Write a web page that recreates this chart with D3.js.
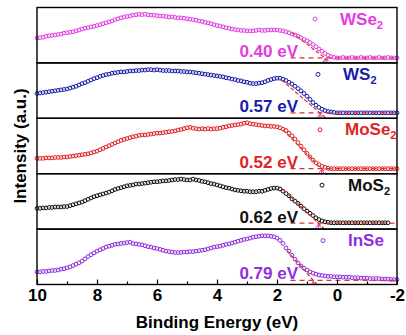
<!DOCTYPE html>
<html>
<head>
<meta charset="utf-8">
<script src="https://cdn.jsdelivr.net/npm/d3@7"></script>
<style>
  html, body { margin: 0; padding: 0; background: #fff; }
  svg { display: block; font-family: "Liberation Sans", Arial, sans-serif; font-weight: bold; }
</style>
</head>
<body>
<svg id="chart" width="406" height="335"></svg>
<script>
// Valence-band spectra, sampled every 0.1 eV starting at 10 eV binding energy
const energyStart = 10;
const energyStep = 0.1;

const samples = ["WSe2", "WS2", "MoSe2", "MoS2", "InSe"];
const sampleLabels = [["WSe", "2"], ["WS", "2"], ["MoSe", "2"], ["MoS", "2"], ["InSe", ""]];
const colors = ["#e23de2", "#1c1ca8", "#e02424", "#111111", "#8f2fe0"];

// normalised intensity (a.u.)
const wse2 = [
  0.44,0.45,0.46,0.48,0.49,0.50,0.51,0.52,0.53,0.55,
  0.56,0.57,0.58,0.60,0.62,0.64,0.66,0.67,0.69,0.70,
  0.72,0.74,0.76,0.78,0.80,0.82,0.85,0.87,0.89,0.91,
  0.92,0.93,0.95,0.96,0.97,0.96,0.97,0.96,0.95,0.95,
  0.94,0.93,0.93,0.92,0.91,0.91,0.90,0.89,0.89,0.88,
  0.87,0.86,0.85,0.84,0.82,0.81,0.79,0.78,0.76,0.74,
  0.72,0.71,0.69,0.67,0.66,0.64,0.63,0.62,0.61,0.61,
  0.60,0.60,0.60,0.61,0.62,0.61,0.61,0.62,0.62,0.62,
  0.62,0.61,0.60,0.58,0.56,0.53,0.51,0.48,0.45,0.41,
  0.38,0.34,0.30,0.25,0.20,0.15,0.10,0.06,0.03,0.01,
  0.00,0.00,0.01,0.00,0.00,0.01,0.00,0.00,0.01,0.00,
  0.00,0.01,0.00,0.00,0.01,0.00,0.00,0.01,0.00,0.00,0.00
];
const ws2 = [
  0.44,0.45,0.46,0.47,0.48,0.49,0.50,0.51,0.52,0.53,
  0.54,0.56,0.58,0.60,0.63,0.66,0.68,0.71,0.74,0.77,
  0.79,0.82,0.84,0.86,0.87,0.89,0.90,0.91,0.92,0.92,
  0.93,0.94,0.94,0.95,0.95,0.96,0.96,0.97,0.97,0.96,
  0.97,0.96,0.95,0.95,0.95,0.94,0.94,0.94,0.93,0.93,
  0.92,0.92,0.91,0.90,0.89,0.88,0.87,0.86,0.85,0.84,
  0.83,0.82,0.81,0.79,0.78,0.76,0.75,0.73,0.72,0.70,
  0.69,0.67,0.66,0.66,0.67,0.68,0.70,0.73,0.75,0.77,
  0.78,0.78,0.76,0.73,0.69,0.65,0.60,0.55,0.50,0.44,
  0.38,0.31,0.24,0.18,0.13,0.09,0.06,0.04,0.03,0.02,
  0.01,0.01,0.01,0.01,0.01,0.01,0.01,0.01,0.01,0.01,
  0.01,0.01,0.01,0.01,0.01,0.01,0.01,0.01,0.01,0.01,0.01
];
const mose2 = [
  0.23,0.23,0.23,0.24,0.24,0.24,0.25,0.25,0.25,0.26,
  0.26,0.27,0.28,0.29,0.30,0.31,0.32,0.33,0.35,0.37,
  0.39,0.42,0.45,0.48,0.51,0.54,0.57,0.60,0.63,0.65,
  0.67,0.69,0.71,0.72,0.74,0.75,0.75,0.76,0.77,0.78,
  0.79,0.79,0.80,0.81,0.82,0.83,0.84,0.86,0.87,0.89,
  0.91,0.92,0.90,0.89,0.88,0.89,0.88,0.89,0.88,0.89,
  0.89,0.90,0.92,0.93,0.95,0.96,0.97,0.98,0.99,1.01,
  1.02,1.00,0.99,0.98,0.97,0.96,0.95,0.95,0.94,0.94,
  0.93,0.91,0.88,0.85,0.79,0.73,0.66,0.58,0.50,0.42,
  0.34,0.26,0.19,0.13,0.09,0.05,0.03,0.01,0.00,0.00,
  0.00,0.00,0.00,0.00,0.00,0.00,0.00,0.00,0.00,0.00,
  0.00,0.00,0.00,0.00,0.00,0.00,0.00,0.00,0.00,0.00,0.00
];
const mos2 = [
  0.35,0.35,0.36,0.36,0.37,0.37,0.38,0.38,0.38,0.39,
  0.39,0.41,0.43,0.45,0.47,0.49,0.52,0.55,0.58,0.61,
  0.63,0.65,0.67,0.69,0.71,0.74,0.77,0.79,0.81,0.83,
  0.85,0.86,0.87,0.89,0.89,0.90,0.91,0.92,0.93,0.94,
  0.94,0.95,0.96,0.96,0.97,0.98,0.99,0.99,1.00,0.99,
  0.98,0.98,1.00,0.98,0.97,0.95,0.94,0.92,0.90,0.89,
  0.87,0.85,0.83,0.81,0.80,0.78,0.76,0.75,0.74,0.73,
  0.73,0.72,0.72,0.72,0.73,0.73,0.75,0.77,0.79,0.80,
  0.80,0.78,0.73,0.68,0.63,0.56,0.51,0.46,0.40,0.34,
  0.29,0.24,0.19,0.14,0.10,0.07,0.05,0.04,0.03,0.03,
  0.03,0.03,0.03,0.03,0.03,0.03,0.03,0.03,0.03,0.03,
  0.03,0.03,0.03,0.03,0.03,0.03,0.03,0.03
];
const inse = [
  0.17,0.17,0.18,0.18,0.19,0.20,0.20,0.21,0.23,0.24,
  0.26,0.28,0.31,0.34,0.37,0.41,0.46,0.51,0.55,0.59,
  0.63,0.66,0.69,0.72,0.74,0.76,0.78,0.79,0.80,0.81,
  0.82,0.83,0.80,0.79,0.78,0.77,0.75,0.73,0.72,0.70,
  0.69,0.67,0.65,0.63,0.62,0.61,0.60,0.60,0.60,0.61,
  0.61,0.62,0.62,0.63,0.64,0.65,0.66,0.68,0.70,0.72,
  0.73,0.74,0.76,0.78,0.79,0.81,0.83,0.85,0.87,0.89,
  0.90,0.92,0.94,0.95,0.96,0.97,0.97,0.97,0.96,0.95,
  0.92,0.87,0.80,0.70,0.63,0.54,0.45,0.37,0.30,0.25,
  0.21,0.17,0.14,0.12,0.10,0.09,0.08,0.07,0.07,0.06,
  0.06,0.06,0.05,0.05,0.05,0.04,0.04,0.04,0.03,0.03,
  0.03,0.02,0.02,0.02,0.02,0.01,0.01,0.01,0.00,0.00,0.00
];
const spectra = [wse2, ws2, mose2, mos2, inse];

// valence-band maximum (eV), from the linear leading-edge extrapolation
const vbm = [0.40, 0.57, 0.52, 0.62, 0.79];
// leading-edge tangent start point (eV, intensity) and background level
const edgeStart = [[1.50, 0.56], [1.85, 0.74], [1.80, 0.86], [1.80, 0.77], [1.66, 0.64]];
const background = [0.00, 0.01, 0.00, 0.02, -0.02];

const xTicks = [10, 8, 6, 4, 2, 0, -2];
const xMinorTicks = [9, 7, 5, 3, 1, -1];

const svg = d3.select("#chart");
const plotLeft = 37, plotRight = 397, plotTop = 7.5, plotBottom = 284.5;
const panelH = (plotBottom - plotTop) / samples.length;

const x = d3.scaleLinear().domain([10, -2]).range([plotLeft, plotRight]);

svg.append("defs").append("clipPath").attr("id", "plotClip")
  .append("rect").attr("x", plotLeft).attr("y", plotTop)
  .attr("width", plotRight - plotLeft).attr("height", plotBottom - plotTop);

samples.forEach((name, k) => {
  const pTop = plotTop + k * panelH;
  const pBot = pTop + panelH;
  const y = d3.scaleLinear().domain([0, 1]).range([pBot - 5, pBot - 50]);
  const color = colors[k];
  const g = svg.append("g").attr("class", "panel-" + name);

  // spectrum points
  g.append("g").selectAll("circle")
    .data(spectra[k])
    .join("circle")
    .attr("cx", (d, i) => x(energyStart - i * energyStep))
    .attr("cy", d => y(d))
    .attr("r", 1.9)
    .attr("fill", "none")
    .attr("stroke", color)
    .attr("stroke-width", 1);

  const fits = g.append("g").attr("clip-path", "url(#plotClip)");
  // background line
  fits.append("line")
    .attr("x1", x(1.55)).attr("x2", x(-2))
    .attr("y1", y(background[k])).attr("y2", y(background[k]))
    .attr("stroke", "#e03030").attr("stroke-width", 1.2)
    .attr("stroke-dasharray", "5,4");
  // leading-edge tangent
  const [e0, v0] = edgeStart[k];
  const slope = (v0 - background[k]) / (e0 - vbm[k]);
  const eEnd = vbm[k] - 0.2;
  fits.append("line")
    .attr("x1", x(e0)).attr("y1", y(v0))
    .attr("x2", x(eEnd)).attr("y2", y(background[k] + slope * (eEnd - vbm[k])))
    .attr("stroke", "#e03030").attr("stroke-width", 1.2)
    .attr("stroke-dasharray", "4,2");
  // VBM marker
  const ax = x(vbm[k]), ay = y(background[k]) + 1;
  fits.append("path")
    .attr("d", `M${ax},${ay} L${ax - 2.5},${ay + 3.5} M${ax},${ay} L${ax + 2.5},${ay + 3.5} M${ax},${ay} L${ax},${ay + 5}`)
    .attr("stroke", "#e040c0").attr("stroke-width", 1).attr("fill", "none");

  // VBM value
  g.append("text")
    .attr("x", 298).attr("y", pBot - 6)
    .attr("text-anchor", "end")
    .attr("font-size", 17)
    .attr("fill", color)
    .text(vbm[k].toFixed(2) + " eV");

  // legend
  const lx = [315, 318, 320, 322, 323][k];
  const tx = [340, 343, 345, 348, 348][k];
  g.append("circle")
    .attr("cx", lx).attr("cy", pTop + 11.5)
    .attr("r", 2).attr("fill", "none")
    .attr("stroke", color).attr("stroke-width", 1);
  const t = g.append("text")
    .attr("x", tx).attr("y", pTop + 17)
    .attr("font-size", 17)
    .attr("fill", color);
  t.append("tspan").text(sampleLabels[k][0]);
  if (sampleLabels[k][1]) {
    t.append("tspan").attr("font-size", 11).attr("dy", 4).text(sampleLabels[k][1]);
  }

  // panel frame
  svg.append("rect")
    .attr("x", plotLeft).attr("y", pTop)
    .attr("width", plotRight - plotLeft).attr("height", panelH)
    .attr("fill", "none").attr("stroke", "#000").attr("stroke-width", 1.4);
});

// bottom axis
const axisG = svg.append("g").attr("transform", `translate(0,${plotBottom})`);
axisG.call(d3.axisBottom(x).tickValues(xTicks).tickSizeInner(-5).tickSizeOuter(0)
  .tickPadding(4).tickFormat(d => String(d)));
axisG.select(".domain").remove();
axisG.selectAll("text").attr("font-size", 17).attr("font-family", "Liberation Sans, Arial, sans-serif")
  .attr("font-weight", "bold").attr("fill", "#000");
axisG.selectAll("line").attr("stroke-width", 1.2);

const minorG = svg.append("g").attr("transform", `translate(0,${plotBottom})`);
minorG.call(d3.axisBottom(x).tickValues(xMinorTicks).tickSizeInner(-3).tickSizeOuter(0).tickFormat(""));
minorG.select(".domain").remove();
minorG.selectAll("line").attr("stroke-width", 1.2);

// axis titles
svg.append("text")
  .attr("x", (plotLeft + plotRight) / 2).attr("y", 328)
  .attr("text-anchor", "middle").attr("font-size", 17)
  .text("Binding Energy (eV)");
svg.append("text")
  .attr("transform", `translate(26,${(plotTop + plotBottom) / 2}) rotate(-90)`)
  .attr("text-anchor", "middle").attr("font-size", 17)
  .text("Intensity (a.u.)");
</script>
</body>
</html>
